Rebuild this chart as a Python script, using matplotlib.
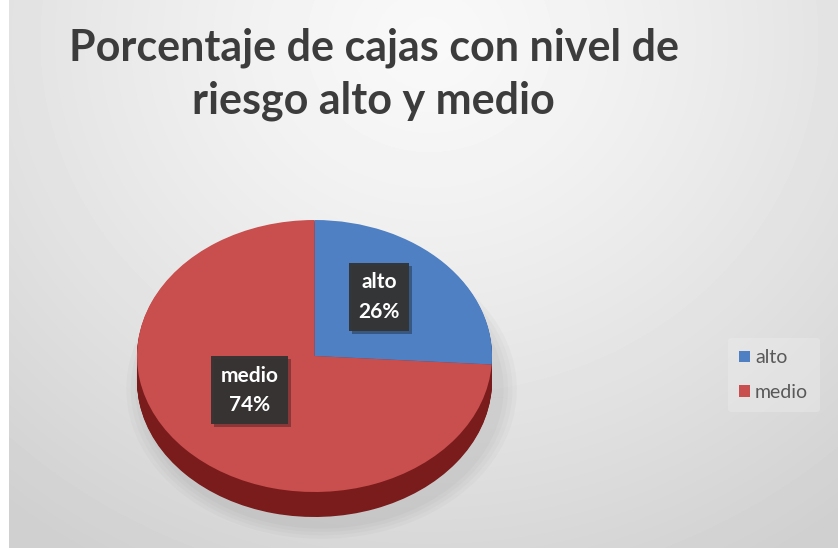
import numpy as np
import matplotlib.pyplot as plt
from matplotlib import patheffects

labels = ['alto', 'medio']
values = [26, 74]
colors = ['#4f80c3', '#c94f4e']
side_colors = ['#2c4d7c', '#7a1c1c']

title = 'Porcentaje de cajas con nivel de\nriesgo alto y medio'

W, H = 838, 548
plt.rcParams['font.family'] = ['Lato', 'DejaVu Sans']

fig = plt.figure(figsize=(W / 100, H / 100), dpi=100)
fig.patch.set_facecolor('white')

# grey chart area with a soft radial highlight near the top
bg = fig.add_axes([9 / W, 0, 1 - 9 / W, 1])
yy, xx = np.mgrid[0:H, 0:W - 9]
d = np.hypot(xx - 420, (yy - 40) * 1.1)
shade = 0.975 - 0.16 * np.clip(d / 660, 0, 1) ** 1.3
bg.imshow(shade, cmap='gray', vmin=0, vmax=1, aspect='auto',
          extent=(0, W - 9, H, 0), interpolation='bilinear')
bg.axis('off')

fig.text(0.446, 0.865, title, ha='center', va='center', fontsize=31,
         fontweight='bold', color='#3c3c3c', linespacing=1.38)

# pie: top face is an ellipse, side drawn as stacked darker layers
left, right, top, bottom = 137, 492, 215, 530
cy = 356
ry = 136
ax = fig.add_axes([left / W, (H - bottom) / H, (right - left) / W, (bottom - top) / H])
depth = 25 / ry

# soft shadow under the pie
for k, a in enumerate([0.05, 0.05, 0.05, 0.06]):
    s = 1.0 + 0.025 * (4 - k)
    ax.pie(values, colors=['#808080'] * 2, startangle=90, counterclock=False,
           radius=s, center=(0.04, -depth - 0.06),
           wedgeprops=dict(linewidth=0, alpha=a))

n_layers = 30
for i in range(n_layers):
    off = -depth * (1 - i / n_layers)
    ax.pie(values, colors=side_colors, startangle=90, counterclock=False,
           center=(0, off), wedgeprops=dict(linewidth=0))

wedges, texts, autotexts = ax.pie(
    values, colors=colors, startangle=90, counterclock=False,
    autopct='%1.0f%%', pctdistance=0.5,
    wedgeprops=dict(linewidth=0),
    textprops=dict(color='white', fontsize=15, fontweight='bold'))

for lab, t in zip(labels, autotexts):
    t.set_text(f'{lab}\n{t.get_text()}')
    t.set_linespacing(1.6)
    x, y = t.get_position()
    t.set_position((x, y + 0.09))
    t.set_bbox(dict(boxstyle='square,pad=0.45', facecolor='#333333',
                    edgecolor='none', alpha=0.95))
    t.get_bbox_patch().set_path_effects([
        patheffects.SimplePatchShadow(offset=(2, -2), alpha=0.35),
        patheffects.Normal()])

ax.set_aspect('auto')
ax.set_xlim(-1, 1)
ax.set_ylim((cy - bottom) / ry, (cy - top) / ry)
ax.axis('off')

leg = fig.legend(wedges, labels, loc='center left',
                 bbox_to_anchor=(718 / W, 1 - 375 / H), frameon=True,
                 fontsize=14, handlelength=0.55, handleheight=0.55,
                 handletextpad=0.25, labelspacing=0.9, borderpad=0.6)
leg.get_frame().set_facecolor('#f0f0f0')
leg.get_frame().set_alpha(0.35)
leg.get_frame().set_edgecolor('none')
for t in leg.get_texts():
    t.set_color('#595959')

fig.savefig('out.png', dpi=100)
